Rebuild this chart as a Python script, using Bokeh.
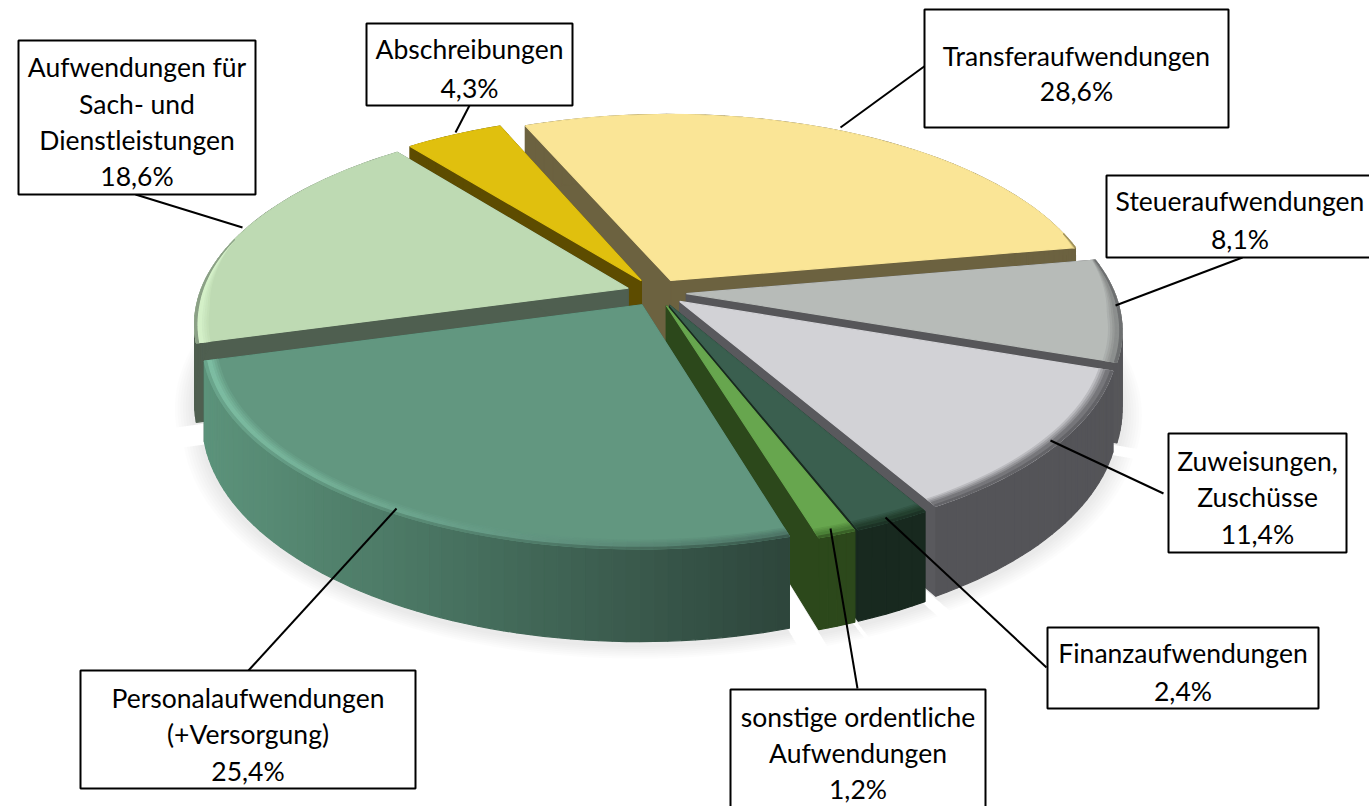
import math
from bokeh.plotting import figure
from bokeh.core.properties import value
from bokeh.embed import file_html
from bokeh.resources import INLINE

# ---- data
categories = ["Transferaufwendungen", "Steueraufwendungen", "Zuweisungen, Zuschüsse",
              "Finanzaufwendungen", "sonstige ordentliche Aufwendungen",
              "Personalaufwendungen (+Versorgung)", "Aufwendungen für Sach- und Dienstleistungen",
              "Abschreibungen"]
values = [28.6, 8.1, 11.4, 2.4, 1.2, 25.4, 18.6, 4.3]
label_lines = [["Transferaufwendungen"], ["Steueraufwendungen"], ["Zuweisungen,", "Zuschüsse"],
               ["Finanzaufwendungen"], ["sonstige ordentliche", "Aufwendungen"],
               ["Personalaufwendungen", "(+Versorgung)"], ["Aufwendungen für", "Sach- und", "Dienstleistungen"],
               ["Abschreibungen"]]
top_colors = ["#FAE596", "#B7BBB8", "#D2D2D6", "#3A5F4F", "#67A64E", "#629780", "#BEDAB3", "#E0C00E"]
cut_colors = ["#6C6240", "#565659", "#59595D", "#18291F", "#2C481B", "#3A5F4F", "#4F5F50", "#5D4C00"]
wall_left = ["#6C6240", "#565659", "#545458", "#18291F", "#2C481B", "#5C937B", "#4F5F50", "#5D4C00"]
wall_right = ["#6C6240", "#565659", "#545458", "#18291F", "#2C481B", "#2E463C", "#4F5F50", "#5D4C00"]
rim_left = ["#D8C67E", "#8C8F8E", "#77777B", "#24402F", "#4C8038", "#7DBDA2", "#D4F0C8", "#C8AA0A"]
rim_right = ["#D8C67E", "#8C8F8E", "#77777B", "#24402F", "#4C8038", "#4F7768", "#D4F0C8", "#C8AA0A"]

# ---- layout (page pixels)
W, H = 1369, 806
CX, CY, RX, RY, K = 656, 292, 428, 198, 0.17
EXPLODE, DEPTH, START = 0.07, 76, -23.0
RIM = 0.03
boxes = [(924, 9, 1228, 127), (1106, 175, 1380, 257), (1168, 433, 1346, 552), (1047, 627, 1318, 708),
         (730, 689, 985, 815), (80, 670, 415, 788), (18, 40, 255, 194), (366, 23, 572, 105)]
line_ys = [[55, 90], [200, 238], [460, 496, 533], [652, 690], [716, 752, 788], [697, 733, 770],
           [66, 103, 139, 175], [48, 87]]
leaders = [(925, 65, 840, 127), (1242, 257, 1115, 305), (1163, 493, 1050, 440), (1046, 667, 885, 517),
           (857, 688, 830, 528), (248, 670, 396, 508), (135, 194, 242, 227), (469, 105, 455, 132)]
FONT, FONT_SIZE = "Lato", "26.5px"


def mix(a, b, t):
    ca = [int(a[i:i + 2], 16) for i in (1, 3, 5)]
    cb = [int(b[i:i + 2], 16) for i in (1, 3, 5)]
    return "#%02x%02x%02x" % tuple(round(x + (y - x) * t) for x, y in zip(ca, cb))


def proj(theta, r, ex, ey, z=0.0):
    t = math.radians(theta)
    X, Y = r * math.sin(t) + ex, -r * math.cos(t) + ey
    s = 1 / (1 - K * Y)
    return CX + RX * X * s, CY + RY * Y * s + DEPTH * z * s


p = figure(width=W, height=H, x_range=(0, W), y_range=(H, 0), output_backend="svg",
           toolbar_location=None, min_border=0, outline_line_color=None, x_axis_type=None, y_axis_type=None)
p.grid.visible = False
p.background_fill_color = "white"

total = sum(values)
spans, a = [], START
for v in values:
    b = a + 360 * v / total
    spans.append((a, b))
    a = b

offsets = []
for a, b in spans:
    m = math.radians((a + b) / 2)
    offsets.append((EXPLODE * math.sin(m), -EXPLODE * math.cos(m)))


def arc(a, b, r, ex, ey, z=0.0, n=48):
    return [proj(a + (b - a) * i / n, r, ex, ey, z) for i in range(n + 1)]


def rim_weight(theta):
    Y = -math.cos(math.radians(theta))
    return max(0.0, min(1.0, (Y + 0.25) / 0.35))


# soft ground shadow
sx, sy = [], []
for i in range(7):
    grow = 1.0 + 0.006 * (i + 1)
    for (a, b), (ex, ey) in zip(spans, offsets):
        pts = arc(a, b, grow, ex, ey + 0.012, 1.0) + [proj(0, 0, ex, ey, 1.0)]
        sx.append([q[0] for q in pts])
        sy.append([q[1] for q in pts])
p.patches(sx, sy, fill_color="#000000", fill_alpha=0.012, line_color=None)

order = [0, 7, 6, 1, 2, 3, 4, 5]
for idx in order:
    a, b = spans[idx]
    ex, ey = offsets[idx]
    xs, ys, cs = [], [], []
    # cut faces
    for th in (a, b):
        q = [proj(th, 0, ex, ey), proj(th, 1, ex, ey), proj(th, 1, ex, ey, 1), proj(th, 0, ex, ey, 1)]
        xs.append([u[0] for u in q]); ys.append([u[1] for u in q]); cs.append(cut_colors[idx])
    # outer wall in strips
    n = max(4, int((b - a) / 1.5))
    x0 = proj(a, 1, ex, ey)[0]; x1 = proj(b, 1, ex, ey)[0]
    lo, hi = min(x0, x1), max(x0, x1)
    fracs = []
    for i in range(n):
        t0, t1 = a + (b - a) * i / n, a + (b - a) * (i + 1) / n
        q = [proj(t0, 1, ex, ey), proj(t1, 1, ex, ey), proj(t1, 1, ex, ey, 1), proj(t0, 1, ex, ey, 1)]
        f = (q[0][0] - lo) / (hi - lo) if hi > lo else 0
        fracs.append((t0, t1, f))
        xs.append([u[0] for u in q]); ys.append([u[1] for u in q]); cs.append(mix(wall_left[idx], wall_right[idx], f))
    # top
    q = [proj(a, 0, ex, ey)] + arc(a, b, 1, ex, ey)
    xs.append([u[0] for u in q]); ys.append([u[1] for u in q]); cs.append(top_colors[idx])
    # bevel rim bands: fade from the top colour to the rim, then into the wall
    steps = [0.25, 0.5, 0.75, 1.0, 1.0, 0.55]
    for j, g in enumerate(steps):
        r0, r1 = j / len(steps), (j + 1) / len(steps)
        for t0, t1, f in fracs:
            w0, w1 = rim_weight(t0), rim_weight(t1)
            if w0 <= 0 and w1 <= 0:
                continue
            ra0, ra1 = 1 - RIM * w0 * (1 - r0), 1 - RIM * w0 * (1 - r1)
            rb0, rb1 = 1 - RIM * w1 * (1 - r0), 1 - RIM * w1 * (1 - r1)
            q = [proj(t0, ra0, ex, ey), proj(t1, rb0, ex, ey), proj(t1, rb1, ex, ey), proj(t0, ra1, ex, ey)]
            rc = mix(rim_left[idx], rim_right[idx], f)
            col = mix(top_colors[idx], rc, g) if j < 5 else mix(rc, mix(wall_left[idx], wall_right[idx], f), g)
            xs.append([u[0] for u in q]); ys.append([u[1] for u in q]); cs.append(col)
    p.patches(xs, ys, fill_color=cs, line_color=cs, line_width=1.2)

# leader lines
p.segment([l[0] for l in leaders], [l[1] for l in leaders], [l[2] for l in leaders], [l[3] for l in leaders],
          line_color="black", line_width=2)
# label boxes
p.quad(left=[c[0] for c in boxes], top=[c[1] for c in boxes], right=[c[2] for c in boxes], bottom=[c[3] for c in boxes],
       fill_color="white", line_color="black", line_width=2)
# label text
tx, ty, tt = [], [], []
for lines, v, box, ysl in zip(label_lines, values, boxes, line_ys):
    full = lines + [f"{v:.1f}".replace(".", ",") + "%"]
    cxb = (box[0] + min(box[2], 1373)) / 2
    for s, y in zip(full, ysl):
        tx.append(cxb); ty.append(y); tt.append(s)
p.text(tx, ty, text=tt, text_font=value(FONT), text_font_size=value(FONT_SIZE), text_align="center",
       text_baseline="middle", text_color="black")

open("out.html", "w").write(file_html(p, INLINE))
